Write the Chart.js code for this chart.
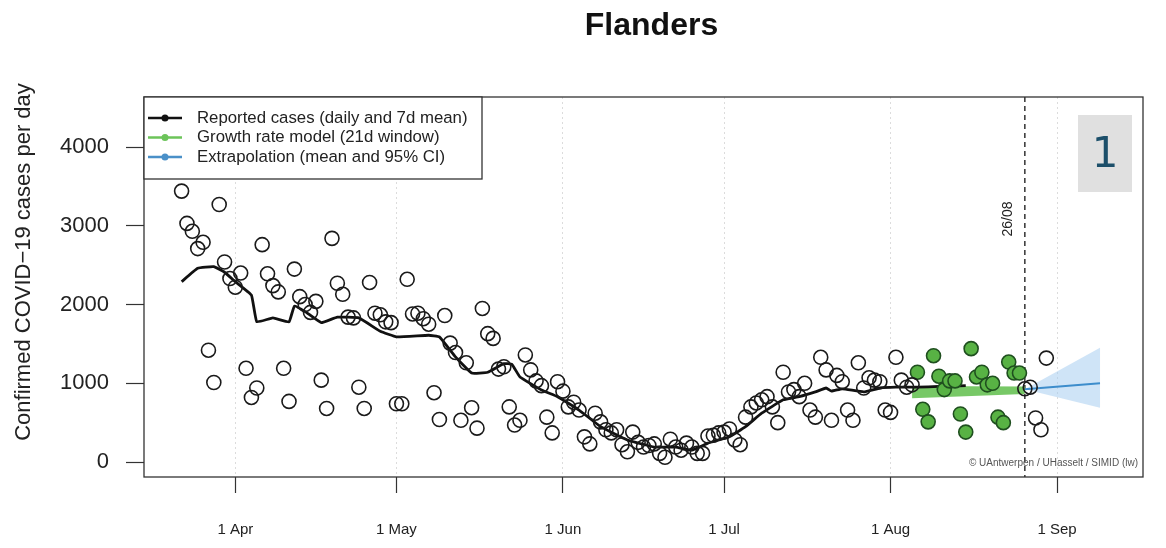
<!DOCTYPE html>
<html lang="en">
<head>
<meta charset="UTF-8">
<title>Flanders</title>
<script src="https://cdn.jsdelivr.net/npm/chart.js"></script>
<style>
  html, body { margin: 0; padding: 0; background: #fff; }
</style>
</head>
<body>
<canvas id="chart" width="1166" height="548"></canvas>
<script>
// x values are day of year 2020 (1 Jan = 1)
var firstDay = 82; // 22 March, first reported day shown
var caseValues = [
  3440, 3030, 2930, 2710, 2790, 1420, 1010, 3270, 2540, 2330,
  2220, 2400, 1190, 820, 940, 2760, 2390, 2240, 2160, 1190,
  770, 2450, 2100, 2000, 1900, 2040, 1040, 680, 2840, 2270,
  2130, 1840, 1830, 950, 680, 2280, 1890, 1870, 1780, 1770,
  740, 740, 2320, 1880, 1890, 1820, 1750, 880, 540, 1860,
  1510, 1390, 530, 1260, 690, 430, 1950, 1630, 1570, 1180,
  1210, 700, 470, 530, 1360, 1170, 1030, 970, 570, 370,
  1020, 900, 700, 760, 660, 320, 230, 620, 510, 410,
  370, 410, 220, 130, 380, 250, 190, 210, 230, 110,
  60, 290, 190, 150, 240, 190, 110, 110, 330, 340,
  370, 380, 420, 280, 220, 570, 700, 750, 790, 830,
  700, 500, 1140, 890, 920, 830, 1000, 660, 570, 1330,
  1170, 530, 1100, 1020, 660, 530, 1260, 940, 1070, 1040,
  1020, 660, 630, 1330, 1040, 950, 980, 1140, 670, 510,
  1350, 1090, 920, 1030, 1030, 610, 380, 1440, 1080, 1140,
  980, 1000, 570, 500, 1270, 1130, 1130, 930, 950, 560,
  410, 1320
];
var windowStart = 219; // growth rate model window (green points)
var windowEnd = 238;

// 7 day mean
var meanDays = [82, 85, 88, 90, 92, 95, 96, 99, 102, 103, 105, 108, 111, 115, 119, 122, 128, 130, 133, 136, 139, 142, 143.5, 145, 149, 152, 156, 160, 165, 170, 174, 177, 180, 184, 187, 190, 194, 197, 200, 202, 203, 205, 209, 212, 215, 219, 223, 228];
var meanValues = [2290, 2460, 2480, 2410, 2290, 2120, 1780, 1830, 1780, 1980, 1910, 1770, 1840, 1830, 1660, 1590, 1610, 1590, 1335, 1130, 1140, 1250, 1240, 1080, 915, 830, 660, 450, 280, 190, 190, 150, 240, 320, 450, 620, 790, 830, 890, 940, 900, 930, 890, 940, 950, 950, 960, 970];

// growth rate model band
var growthDays = [218, 239];
var growthLower = [810, 865];
var growthUpper = [965, 960];

// extrapolation, mean and 95% CI
var extraDays = [239, 253];
var extraMean = [925, 1000];
var extraLower = [925, 690];
var extraUpper = [925, 1450];

var cutoffDay = 239;
var cutoffLabel = '26/08';

var monthDays = [92, 122, 153, 183, 214, 245];
var monthLabels = ['1 Apr', '1 May', '1 Jun', '1 Jul', '1 Aug', '1 Sep'];
var yTicks = [0, 1000, 2000, 3000, 4000];

var legendItems = [
  { text: 'Reported cases (daily and 7d mean)', color: '#111' },
  { text: 'Growth rate model (21d window)', color: '#6cc45a' },
  { text: 'Extrapolation (mean and 95% CI)', color: '#4a90c8' }
];

function pts(xs, ys) {
  return xs.map(function (x, i) { return { x: x, y: ys[i] }; });
}

var observed = [], windowPts = [];
caseValues.forEach(function (v, i) {
  var d = firstDay + i;
  if (d >= windowStart && d <= windowEnd) windowPts.push({ x: d, y: v });
  else observed.push({ x: d, y: v });
});

var FONT = "'Liberation Sans', Arial, Helvetica, sans-serif";
Chart.defaults.font.family = FONT;

// extra drawing: frame, cutoff line, legend box, labels
var decor = {
  id: 'decor',
  beforeDatasetsDraw: function (chart) {
    var ctx = chart.ctx, a = chart.chartArea;
    var x = chart.scales.x.getPixelForValue(cutoffDay);
    ctx.save();
    ctx.strokeStyle = '#333';
    ctx.lineWidth = 1.5;
    ctx.setLineDash([5, 4]);
    ctx.beginPath();
    ctx.moveTo(x, a.top);
    ctx.lineTo(x, a.bottom);
    ctx.stroke();
    ctx.restore();
  },
  afterDraw: function (chart) {
    var ctx = chart.ctx, a = chart.chartArea;
    var xc = chart.scales.x.getPixelForValue(cutoffDay);
    ctx.save();

    // frame
    ctx.strokeStyle = '#333';
    ctx.lineWidth = 1.3;
    ctx.strokeRect(a.left, a.top, a.right - a.left, a.bottom - a.top);

    // cutoff label
    ctx.save();
    ctx.translate(xc - 17, a.top + 122);
    ctx.rotate(-Math.PI / 2);
    ctx.fillStyle = '#222';
    ctx.font = '14px ' + FONT;
    ctx.textAlign = 'center';
    ctx.textBaseline = 'middle';
    ctx.fillText(cutoffLabel, 0, 0);
    ctx.restore();

    // legend
    var lx = a.left, ly = a.top, lw = 338, lh = 82;
    ctx.fillStyle = '#fff';
    ctx.fillRect(lx, ly, lw, lh);
    ctx.strokeStyle = '#333';
    ctx.lineWidth = 1.3;
    ctx.strokeRect(lx, ly, lw, lh);
    ctx.font = '16.8px ' + FONT;
    ctx.textBaseline = 'middle';
    ctx.textAlign = 'left';
    legendItems.forEach(function (it, i) {
      var y = ly + 21 + i * 19.5;
      ctx.strokeStyle = it.color;
      ctx.lineWidth = 2.5;
      ctx.beginPath();
      ctx.moveTo(lx + 4, y);
      ctx.lineTo(lx + 38, y);
      ctx.stroke();
      ctx.fillStyle = it.color;
      ctx.beginPath();
      ctx.arc(lx + 21, y, 3.5, 0, Math.PI * 2);
      ctx.fill();
      ctx.fillStyle = '#222';
      ctx.fillText(it.text, lx + 53, y);
    });

    // copyright
    ctx.font = '10px ' + FONT;
    ctx.fillStyle = '#555';
    ctx.textAlign = 'right';
    ctx.fillText('\u00A9 UAntwerpen / UHasselt / SIMID (lw)', a.right - 5, a.bottom - 14);

    // panel number
    ctx.fillStyle = '#e0e0e0';
    ctx.fillRect(1078, 115, 54, 77);
    ctx.fillStyle = '#1c4f6a';
    ctx.font = "42px 'DejaVu Sans', sans-serif";
    ctx.textAlign = 'center';
    ctx.fillText('1', 1105, 156);

    // title
    ctx.fillStyle = '#111';
    ctx.font = 'bold 32px ' + FONT;
    ctx.fillText('Flanders', (a.left + a.right) / 2 + 8, 26);

    // y axis title
    ctx.save();
    ctx.translate(24, 262);
    ctx.rotate(-Math.PI / 2);
    ctx.font = '22px ' + FONT;
    ctx.fillStyle = '#222';
    ctx.fillText('Confirmed COVID\u221219 cases per day', 0, 0);
    ctx.restore();

    ctx.restore();
  }
};

new Chart(document.getElementById('chart'), {
  type: 'scatter',
  data: {
    datasets: [
      {
        type: 'line', label: 'growth upper', data: pts(growthDays, growthUpper),
        borderWidth: 0, pointRadius: 0, fill: '+1',
        backgroundColor: 'rgba(95,190,75,0.85)', order: 5
      },
      {
        type: 'line', label: 'growth lower', data: pts(growthDays, growthLower),
        borderWidth: 0, pointRadius: 0, fill: false, order: 5
      },
      {
        type: 'line', label: 'CI upper', data: pts(extraDays, extraUpper),
        borderWidth: 0, pointRadius: 0, fill: '+1',
        backgroundColor: 'rgba(160,202,240,0.5)', order: 5
      },
      {
        type: 'line', label: 'CI lower', data: pts(extraDays, extraLower),
        borderWidth: 0, pointRadius: 0, fill: false, order: 5
      },
      {
        type: 'line', label: 'Extrapolation', data: pts(extraDays, extraMean),
        borderColor: '#3d8dcc', borderWidth: 2, pointRadius: 0, fill: false, order: 3
      },
      {
        type: 'line', label: '7d mean', data: pts(meanDays, meanValues),
        borderColor: '#111', borderWidth: 2.8, pointRadius: 0, fill: false,
        tension: 0.1, order: 2
      },
      {
        label: 'Reported cases', data: observed, showLine: false,
        pointRadius: 7, pointBorderWidth: 1.6,
        pointBorderColor: '#1a1a1a', pointBackgroundColor: 'rgba(0,0,0,0)', order: 1
      },
      {
        label: 'Window', data: windowPts, showLine: false,
        pointRadius: 7, pointBorderWidth: 1.6,
        pointBorderColor: '#1f4f1f', pointBackgroundColor: '#58b244', order: 1
      }
    ]
  },
  options: {
    responsive: false,
    animation: false,
    layout: { padding: { top: 97, right: 23, left: 0, bottom: 0 } },
    plugins: { legend: { display: false }, title: { display: false }, tooltip: { enabled: false } },
    scales: {
      x: {
        type: 'linear', min: 75, max: 261,
        afterBuildTicks: function (s) { s.ticks = monthDays.map(function (v) { return { value: v }; }); },
        afterFit: function (s) { s.height = 71; },
        ticks: {
          autoSkip: false, maxRotation: 0, padding: 28, color: '#222', font: { size: 15 },
          callback: function (v) { return monthLabels[monthDays.indexOf(v)]; }
        },
        grid: { color: '#dcdcdc', lineWidth: 1, tickColor: '#333', tickLength: 16, tickWidth: 1.2 },
        border: { display: false, dash: [2, 3] }
      },
      y: {
        min: -190, max: 4635,
        afterBuildTicks: function (s) { s.ticks = yTicks.map(function (v) { return { value: v }; }); },
        afterFit: function (s) { s.width = 144; },
        ticks: {
          padding: 17, color: '#222', font: { size: 22 },
          callback: function (v) { return String(v); }
        },
        grid: { drawOnChartArea: false, tickColor: '#333', tickLength: 18, tickWidth: 1.2 },
        border: { display: false }
      }
    }
  },
  plugins: [decor]
});
</script>
</body>
</html>
